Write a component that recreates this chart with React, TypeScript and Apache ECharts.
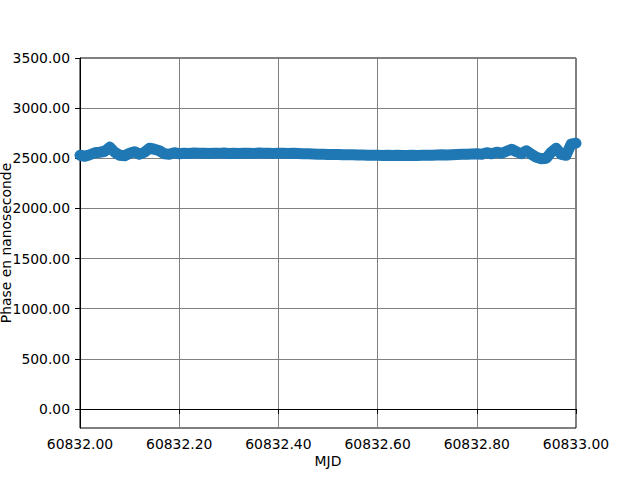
import React, { useEffect, useRef } from "react";
import * as echarts from "echarts";

const mjdStart = 60832.0;
const mjdOffsets = [
  0.0, 0.01, 0.02, 0.03, 0.04, 0.05, 0.06, 0.07, 0.08, 0.09,
  0.1, 0.11, 0.12, 0.13, 0.14, 0.15, 0.16, 0.17, 0.18, 0.19,
  0.2, 0.21, 0.22, 0.23, 0.24, 0.25, 0.26, 0.27, 0.28, 0.29,
  0.3, 0.31, 0.32, 0.33, 0.34, 0.35, 0.36, 0.37, 0.38, 0.39,
  0.4, 0.41, 0.42, 0.43, 0.44, 0.45, 0.46, 0.47, 0.48, 0.49,
  0.5, 0.51, 0.52, 0.53, 0.54, 0.55, 0.56, 0.57, 0.58, 0.59,
  0.6, 0.61, 0.62, 0.63, 0.64, 0.65, 0.66, 0.67, 0.68, 0.69,
  0.7, 0.71, 0.72, 0.73, 0.74, 0.75, 0.76, 0.77, 0.78, 0.79,
  0.8, 0.81, 0.82, 0.83, 0.84, 0.85, 0.86, 0.87, 0.88, 0.89,
  0.9, 0.91, 0.92, 0.93, 0.94, 0.95, 0.96, 0.97, 0.98, 0.99, 1.0,
];
const phaseNs = [
  2530, 2520, 2535, 2555, 2560, 2570, 2610, 2560, 2530, 2525,
  2550, 2565, 2540, 2560, 2600, 2590, 2575, 2545, 2540, 2555,
  2545, 2550, 2548, 2552, 2549, 2551, 2547, 2550, 2549, 2553,
  2548, 2550, 2547, 2551, 2549, 2548, 2552, 2549, 2550, 2548,
  2551, 2549, 2547, 2550, 2548, 2546, 2544, 2542, 2540, 2541,
  2538, 2537, 2538, 2535, 2536, 2534, 2533, 2532, 2531, 2530,
  2529, 2528, 2530, 2527, 2529, 2528, 2527, 2530, 2528, 2529,
  2531, 2530, 2532, 2534, 2533, 2536, 2538, 2540, 2539, 2542,
  2545, 2540, 2555, 2545, 2560, 2550, 2570, 2590, 2565, 2545,
  2575, 2540, 2510, 2495, 2500, 2560, 2600, 2540, 2530, 2640, 2650,
];
const yTicks = [0, 500, 1000, 1500, 2000, 2500, 3000, 3500];
const xLabel = "MJD";
const yLabel = "Phase en nanoseconde";

export default function App() {
  const ref = useRef<HTMLDivElement>(null);
  useEffect(() => {
    if (!ref.current) return;
    const chart = echarts.init(ref.current, null, { renderer: "svg" });
    const font = "DejaVu Sans";
    chart.setOption({
      animation: false,
      backgroundColor: "#ffffff",
      grid: {
        left: 80,
        right: 64,
        top: 58,
        bottom: 52,
        show: true,
        borderColor: "#000000",
        borderWidth: 1,
        backgroundColor: "transparent",
        containLabel: false,
        outerBoundsMode: "none",
      },
      xAxis: {
        type: "value",
        min: 60832,
        max: 60833,
        interval: 0.2,
        name: xLabel,
        nameLocation: "middle",
        nameGap: 26,
        nameMoveOverlap: false,
        nameTextStyle: { fontFamily: font, fontSize: 13.9, color: "#000" },
        axisLine: { show: true, lineStyle: { color: "#000", width: 1 } },
        axisTick: { show: true, inside: false, length: 5, lineStyle: { color: "#000" } },
        axisLabel: {
          fontFamily: font,
          fontSize: 13.9,
          color: "#000",
          margin: 9,
          formatter: (v: number) => v.toFixed(2),
        },
        splitLine: { show: true, lineStyle: { color: "#808080", width: 1 } },
      },
      yAxis: {
        type: "value",
        min: -190,
        max: 3500,
        name: yLabel,
        nameLocation: "middle",
        nameGap: 67,
        nameRotate: 90,
        nameMoveOverlap: false,
        nameTextStyle: { fontFamily: font, fontSize: 13.9, color: "#000" },
        axisLine: { show: true, lineStyle: { color: "#000", width: 1 } },
        axisTick: {
          show: true,
          inside: false,
          length: 5,
          customValues: yTicks,
          lineStyle: { color: "#000" },
        },
        axisLabel: {
          fontFamily: font,
          fontSize: 13.9,
          color: "#000",
          margin: 10,
          customValues: yTicks,
          formatter: (v: number) => v.toFixed(2),
        },
        splitLine: { show: true, lineStyle: { color: "#808080", width: 1 } },
      },
      series: [
        {
          type: "line",
          data: mjdOffsets.map((o, i) => [mjdStart + o, phaseNs[i]]),
          showSymbol: false,
          lineStyle: { color: "#1f77b4", width: 11, cap: "round", join: "round" },
          z: 3,
        },
      ],
    });
    return () => chart.dispose();
  }, []);
  return <div ref={ref} style={{ width: 640, height: 480, position: "absolute", left: 0, top: 0 }} />;
}
